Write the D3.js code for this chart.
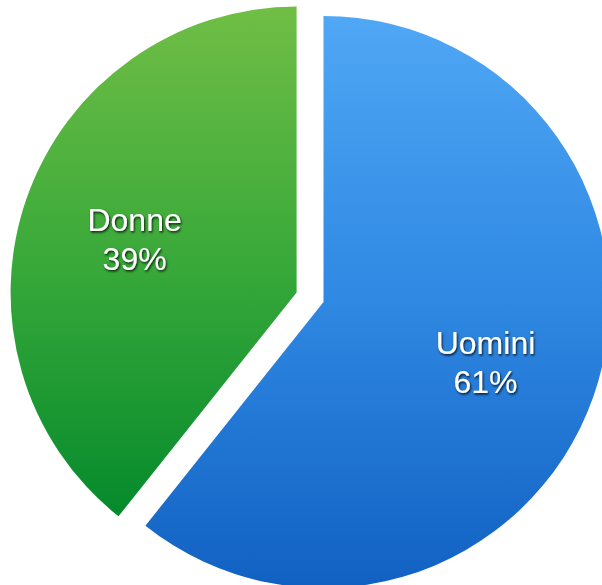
<!DOCTYPE html>
<html>
<head>
<meta charset="utf-8">
<script src="https://cdn.jsdelivr.net/npm/d3@7"></script>
<style>
  html, body { margin: 0; padding: 0; background: #ffffff; }
  svg { display: block; }
</style>
</head>
<body>
<svg id="chart" width="602" height="585"></svg>
<script>
const categories = ["Uomini", "Donne"];
const values = [60.7, 39.3];
const explode = [0, 28.5];
const gradTop = ["#50a7f5", "#70be45"];
const gradMid = ["#2f88e2", "#39a93a"];
const gradBottom = ["#1161c2", "#058a2c"];

const width = 602, height = 585;
const cx = 323.5, cy = 302, radius = 286;

const svg = d3.select("#chart");
const defs = svg.append("defs");

categories.forEach((c, i) => {
  const g = defs.append("linearGradient")
    .attr("id", "grad" + i)
    .attr("x1", 0).attr("y1", 0).attr("x2", 0).attr("y2", 1);
  g.append("stop").attr("offset", "0%").attr("stop-color", gradTop[i]);
  g.append("stop").attr("offset", "50%").attr("stop-color", gradMid[i]);
  g.append("stop").attr("offset", "100%").attr("stop-color", gradBottom[i]);
});

const filter = defs.append("filter").attr("id", "txtshadow")
  .attr("x", "-20%").attr("y", "-20%").attr("width", "140%").attr("height", "140%");
filter.append("feDropShadow").attr("dx", 1).attr("dy", 1.5).attr("stdDeviation", 1.1)
  .attr("flood-color", "#000").attr("flood-opacity", 0.85);

const data = categories.map((c, i) => ({ name: c, value: values[i], idx: i }));
const pie = d3.pie().sort(null).value(d => d.value);
const arcs = pie(data);

const arc = d3.arc().innerRadius(0).outerRadius(radius);
const labelArc = d3.arc().innerRadius(radius * 0.6).outerRadius(radius * 0.6);

const total = d3.sum(values);

const g = svg.append("g").attr("transform", `translate(${cx},${cy})`);

const slices = g.selectAll("g.slice").data(arcs).join("g")
  .attr("class", "slice")
  .attr("transform", d => {
    const mid = (d.startAngle + d.endAngle) / 2;
    const o = explode[d.data.idx];
    return `translate(${Math.sin(mid) * o},${-Math.cos(mid) * o})`;
  });

slices.append("path")
  .attr("d", arc)
  .attr("fill", d => `url(#grad${d.data.idx})`);

slices.each(function(d) {
  const [lx, ly] = labelArc.centroid(d);
  const t = d3.select(this).append("text")
    .attr("x", lx).attr("y", ly)
    .attr("text-anchor", "middle")
    .attr("fill", "#ffffff")
    .attr("font-family", "'Liberation Sans', Arial, Helvetica, sans-serif")
    .attr("font-size", 32)
    .attr("filter", "url(#txtshadow)");
  t.append("tspan").attr("x", lx).attr("dy", "-0.15em").text(d.data.name);
  t.append("tspan").attr("x", lx).attr("dy", "1.22em")
    .text(Math.round(d.data.value / total * 100) + "%");
});
</script>
</body>
</html>
